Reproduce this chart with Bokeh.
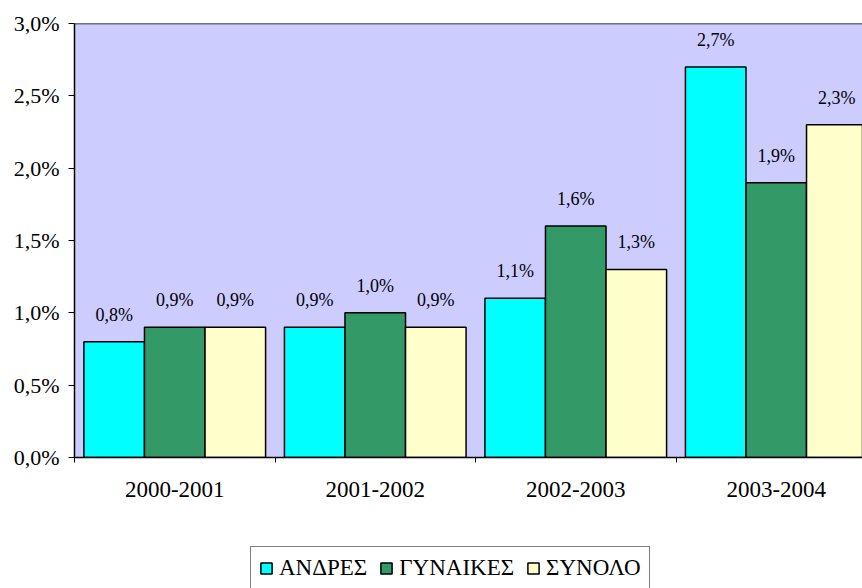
from bokeh.plotting import figure
from bokeh.layouts import column
from bokeh.models import Range1d, FixedTicker, CustomJSTickFormatter, Span, ColumnDataSource, Legend, LegendItem
from bokeh.core.properties import value
from bokeh.embed import file_html
from bokeh.resources import INLINE

categories = ["2000-2001", "2001-2002", "2002-2003", "2003-2004"]
series_names = ["ΑΝΔΡΕΣ", "ΓΥΝΑΙΚΕΣ", "ΣΥΝΟΛΟ"]
andres = [0.8, 0.9, 1.1, 2.7]
gynaikes = [0.9, 1.0, 1.6, 1.9]
synolo = [0.9, 0.9, 1.3, 2.3]
y_ticks = [0.0, 0.5, 1.0, 1.5, 2.0, 2.5, 3.0]

series_values = [andres, gynaikes, synolo]
colors = ["#00FFFF", "#339966", "#FFFFCC"]
bar_w = 0.302
offsets = [-bar_w, 0.0, bar_w]
FONT = "Liberation Serif"

p = figure(width=862, height=540, x_range=Range1d(0, 788 / 200.5), y_range=Range1d(0, 3.0),
           output_backend="svg", toolbar_location=None,
           min_border_left=74, min_border_right=0, min_border_top=23, min_border_bottom=83)
p.background_fill_color = "#CCCCFF"
p.border_fill_color = "white"
p.outline_line_color = None
p.xgrid.visible = False
p.ygrid.visible = False

# legend strip (separate figure so the legend is not clipped by the chart frame)
q = figure(width=862, height=48, x_range=Range1d(10, 11), y_range=Range1d(10, 11),
           output_backend="svg", toolbar_location=None, x_axis_type=None, y_axis_type=None,
           min_border_left=0, min_border_right=0, min_border_top=0, min_border_bottom=0)
q.outline_line_color = None
q.background_fill_color = "white"
q.border_fill_color = "white"
q.xgrid.visible = False
q.ygrid.visible = False
items = []

for name, vals, col, off in zip(series_names, series_values, colors, offsets):
    xs = [i + 0.5 + off for i in range(len(categories))]
    src = ColumnDataSource(dict(x=xs, top=vals,
                                lbl=[("%.1f%%" % v).replace(".", ",") for v in vals]))
    p.vbar(x="x", top="top", width=bar_w, source=src, fill_color=col,
           line_color="black", line_width=1.5)
    p.text(x="x", y="top", text="lbl", source=src, text_font=value(FONT),
           text_font_size="18px", text_color="black", text_align="center",
           text_baseline="middle", y_offset=-27)
    # hidden copy in the legend strip: only its legend swatch shows
    r = q.vbar(x="x", top="top", width=bar_w, source=src, fill_color=col,
               line_color="black", line_width=1.5)
    r.visible = False
    items.append(LegendItem(label=name, renderers=[r]))

p.add_layout(Span(location=3.0, dimension="width", line_color="black", line_width=1.5))

# y axis
ya = p.yaxis[0]
ya.ticker = FixedTicker(ticks=y_ticks)
ya.formatter = CustomJSTickFormatter(code="return tick.toFixed(1).replace('.', ',') + '%';")
ya.major_label_text_font = FONT
ya.major_label_text_font_size = "22px"
ya.major_label_text_color = "black"
ya.axis_line_color = "black"
ya.axis_line_width = 1.5
ya.major_tick_line_color = "black"
ya.major_tick_out = 6
ya.major_tick_in = 0
ya.minor_tick_line_color = None
ya.major_label_standoff = 9

# x axis
xa = p.xaxis[0]
xa.ticker = FixedTicker(ticks=[i + 0.5 for i in range(len(categories))],
                        minor_ticks=list(range(len(categories) + 1)))
xa.formatter = CustomJSTickFormatter(args=dict(cats=categories),
                                     code="return cats[Math.floor(tick)];")
xa.major_label_text_font = FONT
xa.major_label_text_font_size = "23px"
xa.major_label_text_color = "black"
xa.axis_line_color = "black"
xa.axis_line_width = 1.5
xa.major_tick_line_color = None
xa.minor_tick_line_color = "black"
xa.minor_tick_out = 5
xa.minor_tick_in = 0
xa.major_label_standoff = 18

lg = Legend(items=items, orientation="horizontal", location=(176, -2))
lg.label_text_font = FONT
lg.label_text_font_size = "23px"
lg.label_text_color = "black"
lg.glyph_width = 14
lg.glyph_height = 14
lg.label_standoff = 6
lg.spacing = 12
lg.padding = 8
lg.margin = 0
lg.border_line_color = "black"
lg.border_line_width = 1
lg.background_fill_color = "white"
lg.background_fill_alpha = 1.0
lg.inactive_fill_alpha = 0.0
q.add_layout(lg, "center")

layout = column(p, q, spacing=0)
open("out.html", "w").write(file_html(layout, INLINE))
